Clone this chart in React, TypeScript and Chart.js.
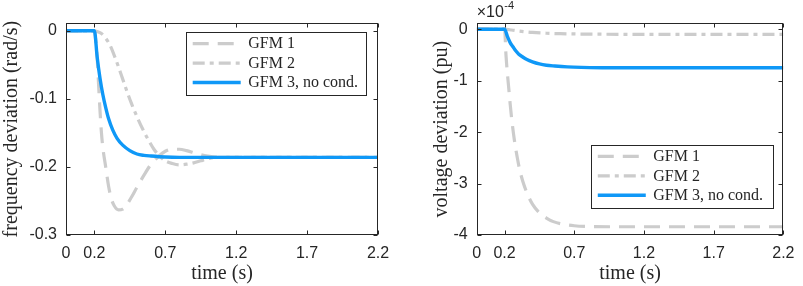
import React, { useEffect, useRef } from 'react';
import { Chart, registerables } from 'chart.js';

Chart.register(...registerables);

// ---------- data ----------
const timeTicks = [0, 0.2, 0.7, 1.2, 1.7, 2.2];
const freqTicks = [-0.3, -0.2, -0.1, 0];
const voltTicks = [-4, -3, -2, -1, 0];
const seriesLabels = ['GFM 1', 'GFM 2', 'GFM 3, no cond.'];

// frequency deviation (rad/s)
const freqT1 = [0, 0.2, 0.21, 0.22, 0.23, 0.24, 0.25, 0.26, 0.28, 0.3, 0.32, 0.34, 0.37, 0.4, 0.43, 0.46, 0.5, 0.55, 0.6, 0.65, 0.7, 0.75, 0.8, 0.85, 0.9, 0.95, 1.0, 1.1, 2.2];
const freqV1 = [0, 0, -0.015, -0.04, -0.08, -0.118, -0.15, -0.172, -0.2, -0.228, -0.247, -0.257, -0.263, -0.262, -0.255, -0.245, -0.23, -0.212, -0.196, -0.185, -0.177, -0.174, -0.174, -0.176, -0.179, -0.182, -0.184, -0.186, -0.186];
const freqT2 = [0, 0.2, 0.22, 0.25, 0.28, 0.31, 0.34, 0.37, 0.4, 0.43, 0.46, 0.5, 0.54, 0.58, 0.62, 0.66, 0.7, 0.75, 0.8, 0.85, 0.9, 0.95, 1.0, 1.05, 1.2, 2.2];
const freqV2 = [0, 0, -0.001, -0.004, -0.011, -0.021, -0.036, -0.053, -0.071, -0.089, -0.106, -0.126, -0.144, -0.16, -0.174, -0.184, -0.191, -0.195, -0.197, -0.196, -0.194, -0.191, -0.188, -0.186, -0.186, -0.186];
const freqT3 = [0, 0.2, 0.22, 0.24, 0.26, 0.28, 0.3, 0.33, 0.36, 0.4, 0.45, 0.5, 0.55, 0.6, 0.7, 0.8, 2.2];
const freqV3 = [0, 0, -0.039, -0.07, -0.094, -0.113, -0.129, -0.146, -0.158, -0.168, -0.176, -0.181, -0.183, -0.184, -0.1855, -0.186, -0.186];

// voltage deviation (pu), in units of 1e-4
const voltT1 = [0, 0.2, 0.21, 0.22, 0.23, 0.24, 0.25, 0.27, 0.29, 0.31, 0.33, 0.36, 0.4, 0.45, 0.5, 0.55, 0.6, 0.7, 0.8, 1.0, 2.2];
const voltV1 = [0, 0, -0.5, -0.85, -1.15, -1.45, -1.72, -2.15, -2.48, -2.75, -2.95, -3.18, -3.4, -3.57, -3.67, -3.74, -3.78, -3.82, -3.835, -3.84, -3.84];
const voltT2 = [0, 0.2, 0.25, 0.3, 0.35, 0.4, 0.5, 0.6, 0.7, 0.9, 1.2, 2.2];
const voltV2 = [0, 0, -0.015, -0.035, -0.05, -0.063, -0.078, -0.087, -0.092, -0.097, -0.1, -0.1];
const voltT3 = [0, 0.2, 0.22, 0.24, 0.26, 0.28, 0.3, 0.33, 0.36, 0.4, 0.45, 0.5, 0.56, 0.65, 0.75, 0.9, 1.1, 2.2];
const voltV3 = [0, 0, -0.14, -0.26, -0.34, -0.42, -0.48, -0.54, -0.59, -0.635, -0.675, -0.7, -0.715, -0.732, -0.742, -0.748, -0.75, -0.75];

// ---------- styles ----------
const AXIS = '#262626';
const GRAY = '#cccccc';
const BLUE = '#0f98f7';
const SANS = "'Liberation Sans', Arial, sans-serif";
const SERIF = "'Liberation Serif', 'Times New Roman', serif";
const dashes = [[16, 9], [12, 5, 4, 5], []];
const colors = [GRAY, GRAY, BLUE];
const widths = [3.2, 3.2, 3.4];
const orders = [2, 1, 0];

const toPts = (t: number[], v: number[]) => t.map((x, i) => ({ x, y: v[i] }));

function datasets(ts: number[][], vs: number[][]) {
  return ts.map((t, i) => ({
    label: seriesLabels[i],
    data: toPts(t, vs[i]),
    borderColor: colors[i],
    borderWidth: widths[i],
    borderDash: dashes[i],
    pointRadius: 0,
    fill: false,
    cubicInterpolationMode: 'monotone' as const,
    order: orders[i],
  }));
}

const TICK = 4;

const framePlugin = {
  id: 'matlabFrame',
  afterDatasetsDraw(chart: any) {
    const { ctx, chartArea: a, scales } = chart;
    ctx.save();
    ctx.strokeStyle = AXIS;
    ctx.lineWidth = 1;
    ctx.setLineDash([]);
    const L = Math.round(a.left) + 0.5;
    const R = Math.round(a.right) - 0.5;
    const T = Math.round(a.top) + 0.5;
    const B = Math.round(a.bottom) - 0.5;
    ctx.beginPath();
    scales.x.ticks.forEach((t: any) => {
      const px = Math.round(scales.x.getPixelForValue(t.value)) + 0.5;
      ctx.moveTo(px, B); ctx.lineTo(px, B - TICK);
      ctx.moveTo(px, T); ctx.lineTo(px, T + TICK);
    });
    scales.y.ticks.forEach((t: any) => {
      const py = Math.round(scales.y.getPixelForValue(t.value)) + 0.5;
      ctx.moveTo(L, py); ctx.lineTo(L + TICK, py);
      ctx.moveTo(R, py); ctx.lineTo(R - TICK, py);
    });
    ctx.stroke();
    ctx.strokeRect(L, T, R - L, B - T);
    ctx.restore();
  },
};

const legendPlugin = {
  id: 'boxLegend',
  afterDraw(chart: any, _args: any, opts: any) {
    const { ctx, chartArea: a } = chart;
    const w = opts.width, h = opts.height;
    const right = a.right - opts.dx;
    const left = right - w;
    const top = opts.anchor === 'top' ? a.top + opts.dy : a.bottom - opts.dy - h;
    ctx.save();
    ctx.fillStyle = '#ffffff';
    ctx.fillRect(left, top, w, h);
    ctx.strokeStyle = AXIS;
    ctx.lineWidth = 1;
    ctx.setLineDash([]);
    ctx.strokeRect(Math.round(left) + 0.5, Math.round(top) + 0.5, Math.round(w), Math.round(h));
    const rows = [11.3, 30.8, 50.2];
    chart.data.datasets.forEach((ds: any, i: number) => {
      const y = top + rows[i];
      ctx.beginPath();
      ctx.strokeStyle = ds.borderColor;
      ctx.lineWidth = ds.borderWidth;
      ctx.setLineDash(ds.borderDash || []);
      ctx.moveTo(left + 7, y);
      ctx.lineTo(left + 55, y);
      ctx.stroke();
      ctx.setLineDash([]);
      ctx.fillStyle = AXIS;
      ctx.font = `16px ${SERIF}`;
      ctx.textBaseline = 'middle';
      ctx.textAlign = 'left';
      ctx.fillText(ds.label, left + 62.5, y + 0.5);
    });
    ctx.restore();
  },
};

const exponentPlugin = {
  id: 'exponent',
  afterDraw(chart: any, _args: any, opts: any) {
    if (!opts || !opts.show) return;
    const { ctx, chartArea: a } = chart;
    ctx.save();
    ctx.fillStyle = AXIS;
    ctx.textBaseline = 'middle';
    ctx.textAlign = 'left';
    ctx.font = `16px ${SANS}`;
    const base = '\u00d710';
    ctx.fillText(base, a.left, 12.7);
    const w = ctx.measureText(base).width;
    ctx.font = `11px ${SANS}`;
    ctx.fillText('-4', a.left + w + 0.5, 5.5);
    ctx.restore();
  },
};

function buildConfig(p: {
  ts: number[][]; vs: number[][]; yTicks: number[]; yMin: number; yMax: number;
  yTitle: string; padLeft: number; padRight: number; yWidth: number;
  legend: any; exponent: boolean;
}): any {
  const tickFont = { family: SANS, size: 16 };
  const titleFont = { family: SERIF, size: 20 };
  return {
    type: 'line',
    data: { datasets: datasets(p.ts, p.vs) },
    options: {
      animation: false,
      responsive: false,
      devicePixelRatio: 1,
      parsing: true,
      layout: { padding: { top: 23.3, right: p.padRight, bottom: 0, left: p.padLeft } },
      plugins: {
        legend: { display: false },
        tooltip: { enabled: false },
        boxLegend: p.legend,
        exponent: { show: p.exponent },
      },
      scales: {
        x: {
          type: 'linear',
          min: 0,
          max: 2.2,
          afterBuildTicks: (s: any) => { s.ticks = timeTicks.map((v) => ({ value: v })); },
          afterFit: (s: any) => { s.height = 51; },
          grid: { display: false, drawTicks: false },
          border: { display: false },
          ticks: { padding: 8.5, font: tickFont, color: AXIS, maxRotation: 0, autoSkip: false, callback: (v: any) => String(v) },
          title: { display: true, text: 'time (s)', font: titleFont, color: AXIS, padding: { top: 0, bottom: 0 } },
        },
        y: {
          type: 'linear',
          min: p.yMin,
          max: p.yMax,
          afterBuildTicks: (s: any) => { s.ticks = p.yTicks.map((v) => ({ value: v })); },
          afterFit: (s: any) => { s.width = p.yWidth; },
          grid: { display: false, drawTicks: false },
          border: { display: false },
          ticks: { padding: 9, font: tickFont, color: AXIS, autoSkip: false, callback: (v: any) => String(v) },
          title: { display: true, text: p.yTitle, font: titleFont, color: AXIS, padding: { top: 0, bottom: 0 } },
        },
      },
    },
    plugins: [framePlugin, legendPlugin, exponentPlugin],
  };
}

function ChartCanvas({ make, width, height, left }: { make: () => any; width: number; height: number; left: number }) {
  const ref = useRef<HTMLCanvasElement>(null);
  useEffect(() => {
    const chart = new Chart(ref.current as HTMLCanvasElement, make());
    return () => chart.destroy();
  }, []);
  return (
    <canvas
      ref={ref}
      width={width}
      height={height}
      style={{ position: 'absolute', left, top: 0, width, height, display: 'block' }}
    />
  );
}

export default function App() {
  const makeFreq = () =>
    buildConfig({
      ts: [freqT1, freqT2, freqT3],
      vs: [freqV1, freqV2, freqV3],
      yTicks: freqTicks,
      yMin: -0.3,
      yMax: 0.011,
      yTitle: 'frequency deviation (rad/s)',
      padLeft: 0,
      padRight: 22,
      yWidth: 66,
      legend: { anchor: 'top', dx: 12, dy: 9, width: 180.3, height: 63.4 },
      exponent: false,
    });
  const makeVolt = () =>
    buildConfig({
      ts: [voltT1, voltT2, voltT3],
      vs: [voltV1, voltV2, voltV3],
      yTicks: voltTicks,
      yMin: -4,
      yMax: 0.115,
      yTitle: 'voltage deviation (pu)',
      padLeft: 29.7,
      padRight: 13.7,
      yWidth: 47,
      legend: { anchor: 'bottom', dx: 11, dy: 26.7, width: 181.6, height: 63.3 },
      exponent: true,
    });
  return (
    <div style={{ position: 'absolute', left: 0, top: 0, width: 803, height: 286, background: '#ffffff', overflow: 'hidden' }}>
      <ChartCanvas make={makeFreq} width={400} height={286} left={0} />
      <ChartCanvas make={makeVolt} width={403} height={286} left={400} />
    </div>
  );
}
